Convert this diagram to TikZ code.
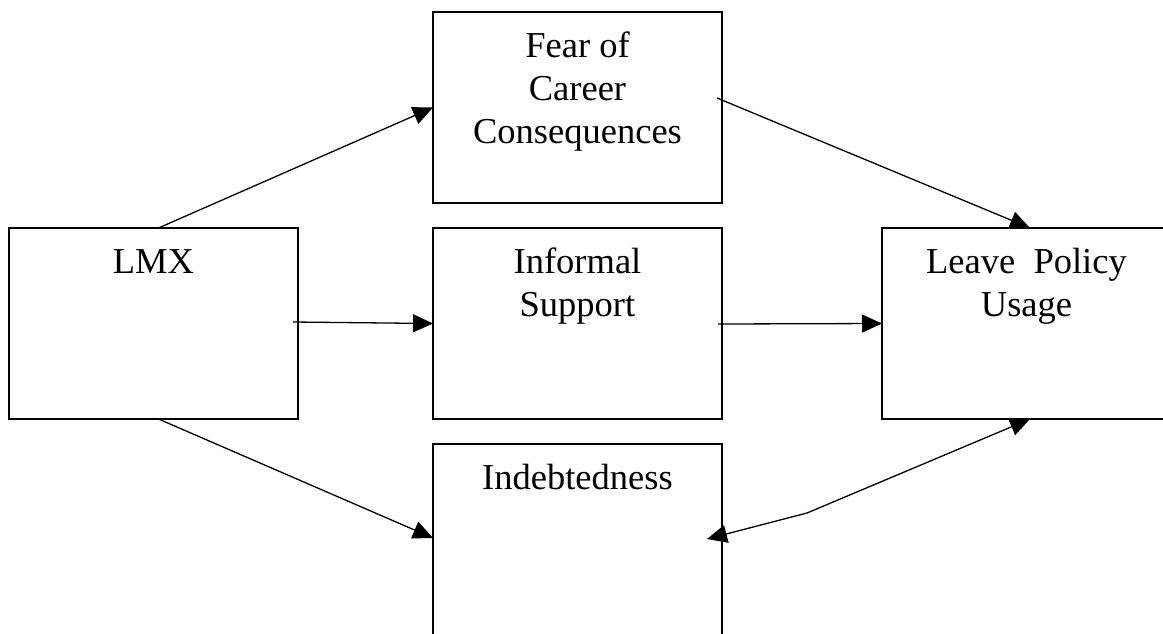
\documentclass[tikz,border=0pt]{standalone}
\usepackage{fontspec}
\setmainfont{Liberation Serif}
\usetikzlibrary{arrows.meta,calc}
\newcommand{\boxlines}[2]{\parbox[c][#1][t]{289pt}{\centering\rule{0pt}{45pt}#2\par}}
\tikzset{
  framebox/.style={draw, line width=1.3pt, inner sep=0pt, outer sep=0pt, anchor=north west,
    font=\fontsize{36.5}{43}\selectfont},
  link/.style={line width=1.3pt, -{Triangle[length=20pt,width=18pt]}},
  twolink/.style={line width=1.3pt, {Triangle[length=20pt,width=18pt]}-{Triangle[length=20pt,width=18pt]}}
}
\begin{document}
\begin{tikzpicture}[x=1pt,y=-1pt]
\useasboundingbox (0,0) rectangle (1163,633);
\clip (0,0) rectangle (1163,633);
\fill[white] (0,0) rectangle (1163,633);
\node[framebox] (lmx) at (9,228) {\boxlines{191pt}{LMX}};
\node[framebox] (fear) at (433,12) {\boxlines{191pt}{Fear of\\Career\\Consequences}};
\node[framebox] (inf) at (433,228) {\boxlines{191pt}{Informal\\Support}};
\node[framebox] (ind) at (433,444) {\boxlines{210pt}{Indebtedness}};
\node[framebox] (leave) at (882,228) {\boxlines{191pt}{Leave\ \ Policy\\Usage}};
\coordinate (kink) at (807,513);
\draw[link] ($(lmx.north)+(5,0)$) -- (fear.west);
\draw[link] ($(lmx.east)+(-5,-1.5)$) -- (inf.west);
\draw[link] ($(lmx.south)+(5,0)$) -- ($(ind.north west)+(0,94)$);
\draw[link] ($(fear.east)+(-5,-9.5)$) -- ($(leave.north)+(3.5,0)$);
\draw[link] ($(inf.east)+(-4,0.5)$) -- (leave.west);
\draw[twolink] ($(ind.north east)+(-15,95)$) -- (kink) -- ($(leave.south)+(3.5,0)$);
\end{tikzpicture}
\end{document}
